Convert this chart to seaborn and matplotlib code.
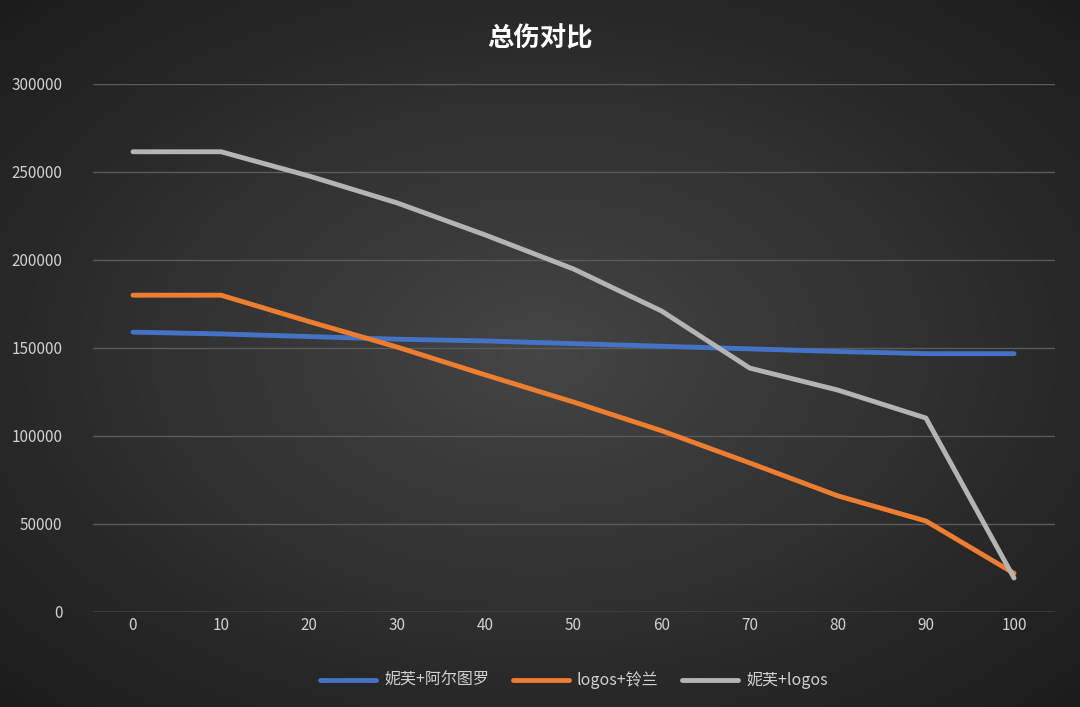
import numpy as np
import pandas as pd
import matplotlib
matplotlib.use("Agg")
import matplotlib.pyplot as plt
import seaborn as sns

x = [0, 10, 20, 30, 40, 50, 60, 70, 80, 90, 100]
s1_name = "妮芙+阿尔图罗"
s2_name = "logos+铃兰"
s3_name = "妮芙+logos"
s1 = [159000, 158000, 156500, 155000, 154000, 152500, 151000, 149500, 148000, 146800, 146800]
s2 = [180000, 180000, 165000, 150500, 134700, 119300, 103000, 84700, 66000, 51700, 22000]
s3 = [261500, 261500, 247700, 232400, 214200, 194900, 171000, 138600, 126100, 110200, 19300]
yticks = [0, 50000, 100000, 150000, 200000, 250000, 300000]

df = pd.DataFrame({"x": x * 3,
                   "v": s1 + s2 + s3,
                   "s": [s1_name] * 11 + [s2_name] * 11 + [s3_name] * 11})

sns.set_theme(style="dark")
plt.rcParams['font.family'] = ['Noto Sans CJK SC', 'DejaVu Sans']

fig = plt.figure(figsize=(10.8, 7.07), dpi=100)
bg = fig.add_axes([0, 0, 1, 1], zorder=-10)
yy, xx = np.mgrid[-1:1:300j, -1:1:400j]
r = np.sqrt(xx**2 + yy**2)
bg.imshow(np.clip(r / 1.4, 0, 1), cmap=matplotlib.colors.LinearSegmentedColormap.from_list(
    "g", ["#454545", "#1c1c1c"]), aspect="auto", extent=[0, 1, 0, 1])
bg.axis("off")

ax = fig.add_axes([93 / 1080, 1 - 612 / 707, (1055 - 93) / 1080, (612 - 84) / 707])
ax.set_facecolor("none")
palette = {s1_name: "#4472c4", s2_name: "#ed7d31", s3_name: "#b4b4b4"}
sns.lineplot(data=df, x="x", y="v", hue="s", palette=palette, linewidth=3.5, ax=ax, legend=True)
ax.set_xlim(-4.54, 104.65)
ax.set_ylim(0, 300000)
ax.set_xticks(x)
ax.set_yticks(yticks)
ax.set_yticklabels([str(v) for v in yticks])
ax.grid(axis="y", color="#5a5a5a", linewidth=1)
ax.tick_params(colors="#d0d0d0", labelsize=11, length=0)
ax.tick_params(axis="y", pad=22)
for sp in ax.spines.values():
    sp.set_visible(False)
ax.axhline(0, color="#6a6a6a", lw=1)
ax.set_xlabel("")
ax.set_ylabel("")
leg = ax.legend(loc="upper center", bbox_to_anchor=(0.5, -0.085), ncol=3, frameon=False,
                fontsize=11.5, handlelength=3.5, handletextpad=0.5, columnspacing=1.5)
for t in leg.get_texts():
    t.set_color("#d0d0d0")
for l in leg.get_lines():
    l.set_linewidth(3.5)
fig.text(0.5, 0.945, "总伤对比", color="white", fontsize=19, fontweight="bold", ha="center", va="center")
fig.savefig("out.png", dpi=100)
